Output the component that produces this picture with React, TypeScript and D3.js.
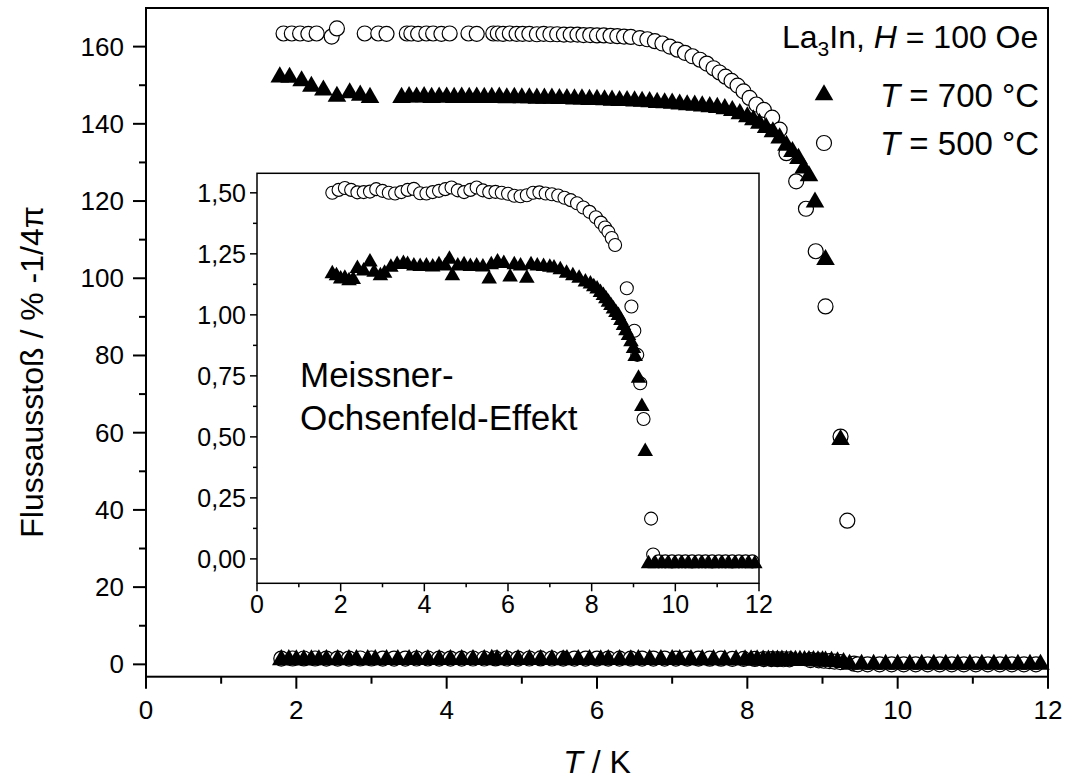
import React from 'react';
import * as d3 from 'd3';

// ---------- DATA ----------
// Main plot: zero-field-cooled shielding, sample annealed at 700 °C (triangles)
const zfc700: [number, number][] = [
  [1.78, 152.1], [1.91, 152.0], [2.07, 151.1], [2.20, 149.7], [2.36, 148.7], [2.54, 147.1],
  [2.71, 148.0], [2.85, 147.4], [2.98, 146.8],
  [3.40, 146.8], [3.50, 147.0], [3.60, 146.9], [3.70, 147.0], [3.80, 146.8], [3.90, 146.9],
  [4.00, 146.9], [4.10, 146.8], [4.20, 146.9], [4.30, 146.8], [4.40, 146.9], [4.50, 146.8],
  [4.60, 146.8], [4.70, 146.9], [4.80, 146.7], [4.90, 146.8], [5.00, 146.7], [5.10, 146.7],
  [5.20, 146.6], [5.30, 146.6], [5.40, 146.6], [5.50, 146.5], [5.60, 146.5], [5.70, 146.4],
  [5.80, 146.4], [5.90, 146.3], [6.00, 146.3], [6.10, 146.2], [6.20, 146.1], [6.30, 146.0],
  [6.40, 146.0], [6.50, 145.9], [6.60, 145.8], [6.70, 145.7], [6.80, 145.5], [6.90, 145.4],
  [7.00, 145.3], [7.10, 145.1], [7.20, 144.9], [7.30, 144.8], [7.40, 144.6], [7.50, 144.4],
  [7.60, 144.2], [7.70, 143.9], [7.80, 143.4], [7.90, 142.6], [8.00, 141.8], [8.08, 141.0],
  [8.16, 140.1], [8.25, 139.0], [8.34, 137.9], [8.43, 136.3], [8.52, 134.4], [8.60, 132.8],
  [8.68, 131.0], [8.75, 128.5], [8.82, 126.5], [8.90, 119.7], [9.04, 104.8], [9.24, 58.2],
];

// Main plot: zero-field-cooled shielding, sample annealed at 500 °C (circles)
const zfc500: [number, number][] = [
  [1.83, 163.4], [1.94, 163.4], [2.05, 163.4], [2.16, 163.3], [2.27, 163.4], [2.47, 162.6],
  [2.54, 164.7], [2.91, 163.4], [3.09, 163.4], [3.20, 163.3],
  [3.47, 163.4], [3.53, 163.4], [3.62, 163.3], [3.73, 163.4], [3.82, 163.4], [3.93, 163.3], [4.04, 163.4],
  [4.29, 163.4], [4.40, 163.3],
  [4.62, 163.4], [4.68, 163.4], [4.75, 163.3], [4.84, 163.4], [4.93, 163.3], [5.01, 163.3],
  [5.10, 163.3], [5.20, 163.2], [5.29, 163.3], [5.38, 163.2], [5.47, 163.2], [5.56, 163.1],
  [5.65, 163.1], [5.74, 163.1], [5.82, 163.0], [5.91, 163.0], [6.00, 162.9], [6.09, 162.9],
  [6.18, 162.8], [6.27, 162.7], [6.36, 162.6], [6.45, 162.5],
  [6.57, 162.2], [6.67, 161.9], [6.77, 161.4], [6.87, 160.8], [6.97, 160.0], [7.07, 159.2],
  [7.17, 158.4], [7.27, 157.5], [7.37, 156.6], [7.46, 155.6], [7.55, 154.4], [7.63, 153.3],
  [7.71, 152.2], [7.79, 151.1], [7.87, 149.9], [7.95, 148.4], [8.03, 146.7], [8.12, 145.0],
  [8.22, 143.6], [8.33, 141.6], [8.43, 138.5], [8.52, 132.4], [8.65, 125.1], [8.78, 118.0],
  [8.91, 107.0], [9.04, 92.7], [9.24, 59.0], [9.33, 37.2],
];

// Inset (and bottom band of main plot): field-cooled Meissner fraction, 700 °C (triangles)
const fc700: [number, number][] = [
  [1.80, 1.168], [1.90, 1.160], [2.00, 1.147], [2.10, 1.150], [2.20, 1.140], [2.30, 1.145],
  [2.40, 1.190], [2.55, 1.180], [2.70, 1.217], [2.80, 1.175], [2.95, 1.160], [3.05, 1.170],
  [3.20, 1.195], [3.35, 1.206], [3.50, 1.210], [3.60, 1.206], [3.75, 1.200], [3.90, 1.198],
  [4.05, 1.200], [4.20, 1.196], [4.35, 1.205], [4.50, 1.200], [4.60, 1.228], [4.67, 1.160],
  [4.80, 1.200], [4.95, 1.205], [5.10, 1.198], [5.25, 1.200], [5.40, 1.196], [5.55, 1.147],
  [5.60, 1.205], [5.75, 1.217], [5.90, 1.210], [6.05, 1.155], [6.15, 1.205], [6.30, 1.200],
  [6.45, 1.150], [6.55, 1.205], [6.70, 1.200], [6.85, 1.198], [7.00, 1.195], [7.10, 1.192],
  [7.25, 1.185], [7.40, 1.170], [7.55, 1.160], [7.70, 1.150], [7.85, 1.135], [7.97, 1.126],
  [8.05, 1.115], [8.13, 1.106], [8.21, 1.092], [8.28, 1.079], [8.34, 1.066], [8.40, 1.052],
  [8.46, 1.038], [8.52, 1.024], [8.58, 1.010], [8.64, 0.997], [8.70, 0.977], [8.76, 0.956],
  [8.82, 0.935], [8.88, 0.915], [8.94, 0.890], [9.00, 0.862], [9.04, 0.829], [9.12, 0.740],
  [9.20, 0.624], [9.28, 0.440],
  [9.36, -0.020], [9.52, -0.020], [9.68, -0.018], [9.84, -0.020], [10.00, -0.020], [10.16, -0.019],
  [10.32, -0.020], [10.48, -0.020], [10.64, -0.019], [10.80, -0.020], [10.96, -0.020], [11.12, -0.019],
  [11.28, -0.020], [11.44, -0.020], [11.60, -0.019], [11.76, -0.020], [11.90, -0.020],
];

// Inset (and bottom band of main plot): field-cooled Meissner fraction, 500 °C (circles)
const fc500: [number, number][] = [
  [1.80, 1.500], [1.95, 1.512], [2.10, 1.520], [2.25, 1.512], [2.40, 1.502], [2.55, 1.503],
  [2.70, 1.505], [2.85, 1.515], [3.00, 1.508], [3.15, 1.500], [3.30, 1.497], [3.45, 1.503],
  [3.60, 1.512], [3.75, 1.516], [3.90, 1.498], [4.05, 1.497], [4.20, 1.503], [4.35, 1.508],
  [4.50, 1.515], [4.65, 1.522], [4.80, 1.510], [4.95, 1.503], [5.10, 1.512], [5.25, 1.522],
  [5.40, 1.510], [5.55, 1.503], [5.70, 1.504], [5.85, 1.500], [6.00, 1.496], [6.15, 1.488],
  [6.30, 1.486], [6.45, 1.490], [6.60, 1.500], [6.75, 1.502], [6.90, 1.497], [7.05, 1.494],
  [7.20, 1.489], [7.35, 1.480], [7.50, 1.470], [7.65, 1.457], [7.80, 1.440], [7.95, 1.422],
  [8.10, 1.400], [8.22, 1.378], [8.32, 1.358], [8.40, 1.340], [8.48, 1.315], [8.56, 1.286],
  [8.84, 1.109], [8.95, 1.034], [9.02, 0.935], [9.09, 0.836], [9.16, 0.720], [9.24, 0.573],
  [9.42, 0.165], [9.47, 0.018],
  [9.60, -0.010], [9.76, -0.010], [9.92, -0.010], [10.08, -0.010], [10.24, -0.010], [10.40, -0.010],
  [10.56, -0.010], [10.72, -0.010], [10.88, -0.010], [11.04, -0.010], [11.20, -0.010], [11.36, -0.010],
  [11.52, -0.010], [11.68, -0.010], [11.84, -0.010],
];

const xMajor = [0, 2, 4, 6, 8, 10, 12];
const xMinor = [1, 3, 5, 7, 9, 11];
const yMainMajor = [0, 20, 40, 60, 80, 100, 120, 140, 160];
const yMainMinor = [10, 30, 50, 70, 90, 110, 130, 150];
const yInsetMajor = [0, 0.25, 0.5, 0.75, 1.0, 1.25, 1.5];
const yInsetMinor = [0.125, 0.375, 0.625, 0.875, 1.125, 1.375];

const legendTitle = { sample: 'La', sub: '3', rest: 'In, ', field: 'H', value: ' = 100 Oe' };
const legendRows = [' = 700 °C', ' = 500 °C'];
const insetLabel = ['Meissner-', 'Ochsenfeld-Effekt'];
const xTitle = ' / K';
const yTitle = 'Flussausstoß / % -1/4π';

const FONT = '"Liberation Sans", Arial, Helvetica, sans-serif';

const fmtComma = (v: number) => v.toFixed(2).replace('.', ',');

export default function App() {
  const W = 1065, H = 783;
  const xM = d3.scaleLinear().domain([0, 12]).range([146, 1048]);
  const yM = d3.scaleLinear().domain([-3.2, 170]).range([676.7, 8]);
  const xI = d3.scaleLinear().domain([0, 12]).range([257, 759]);
  const yI = d3.scaleLinear().domain([-0.1, 1.58]).range([583.3, 173.3]);

  const triMain = d3.symbol(d3.symbolTriangle, 150)() as string;
  const triInset = d3.symbol(d3.symbolTriangle, 105)() as string;

  const mx0 = xM.range()[0], mx1 = xM.range()[1];
  const my0 = yM.range()[0], my1 = yM.range()[1];
  const ix0 = xI.range()[0], ix1 = xI.range()[1];
  const iy0 = yI.range()[0], iy1 = yI.range()[1];

  return (
    <svg width={W} height={H} style={{ position: 'absolute', left: 0, top: 0, background: '#fff' }}
      fontFamily={FONT}>
      <rect x={0} y={0} width={W} height={H} fill="#fff" />

      {/* ---------- MAIN PLOT ---------- */}
      <g>
        {fc500.map((d, i) => (
          <circle key={'mb5' + i} cx={xM(d[0])} cy={yM(d[1])} r={7.5} fill="#fff" stroke="#000" strokeWidth={1.2} />
        ))}
        {fc700.map((d, i) => (
          <path key={'mb7' + i} d={triMain} transform={`translate(${xM(d[0])},${yM(d[1])})`} fill="#000" />
        ))}
      </g>
      <g>
        {zfc500.map((d, i) => (
          <circle key={'m5' + i} cx={xM(d[0])} cy={yM(d[1])} r={7.5} fill="#fff" stroke="#000" strokeWidth={1.2} />
        ))}
        {zfc700.map((d, i) => (
          <path key={'m7' + i} d={triMain} transform={`translate(${xM(d[0])},${yM(d[1])})`} fill="#000" />
        ))}
      </g>

      <rect x={mx0} y={my1} width={mx1 - mx0} height={my0 - my1} fill="none" stroke="#000" strokeWidth={2} />
      {xMajor.map((t) => (
        <g key={'mxt' + t}>
          <line x1={xM(t)} x2={xM(t)} y1={my0} y2={my0 + 12} stroke="#000" strokeWidth={2} />
          <text x={xM(t)} y={my0 + 42} fontSize={26} textAnchor="middle">{t}</text>
        </g>
      ))}
      {xMinor.map((t) => (
        <line key={'mxm' + t} x1={xM(t)} x2={xM(t)} y1={my0} y2={my0 + 7} stroke="#000" strokeWidth={2} />
      ))}
      {yMainMajor.map((t) => (
        <g key={'myt' + t}>
          <line x1={mx0} x2={mx0 - 13} y1={yM(t)} y2={yM(t)} stroke="#000" strokeWidth={2} />
          <text x={mx0 - 22} y={yM(t)} fontSize={26} textAnchor="end" dominantBaseline="central">{t}</text>
        </g>
      ))}
      {yMainMinor.map((t) => (
        <line key={'mym' + t} x1={mx0} x2={mx0 - 7} y1={yM(t)} y2={yM(t)} stroke="#000" strokeWidth={2} />
      ))}

      <text x={597} y={773} fontSize={32} textAnchor="middle">
        <tspan fontStyle="italic">T</tspan>{xTitle}
      </text>
      <text transform={`translate(43,372) rotate(-90)`} fontSize={32} textAnchor="middle">{yTitle}</text>

      {/* legend */}
      <text x={782} y={48} fontSize={32}>
        {legendTitle.sample}
        <tspan fontSize={21} dy={8}>{legendTitle.sub}</tspan>
        <tspan dy={-8}>{legendTitle.rest}</tspan>
        <tspan fontStyle="italic">{legendTitle.field}</tspan>
        {legendTitle.value}
      </text>
      <path d={triMain} transform="translate(824,95)" fill="#000" />
      <text x={880} y={107} fontSize={33}>
        <tspan fontStyle="italic">T</tspan>{legendRows[0]}
      </text>
      <circle cx={824} cy={143} r={7.5} fill="#fff" stroke="#000" strokeWidth={1.2} />
      <text x={880} y={155} fontSize={33}>
        <tspan fontStyle="italic">T</tspan>{legendRows[1]}
      </text>

      {/* ---------- INSET ---------- */}
      <rect x={ix0} y={iy1} width={ix1 - ix0} height={iy0 - iy1} fill="#fff" stroke="#000" strokeWidth={1.5} />
      {xMajor.map((t) => (
        <g key={'ixt' + t}>
          <line x1={xI(t)} x2={xI(t)} y1={iy0} y2={iy0 + 8} stroke="#000" strokeWidth={1.5} />
          <text x={xI(t)} y={iy0 + 30} fontSize={25} textAnchor="middle">{t}</text>
        </g>
      ))}
      {xMinor.map((t) => (
        <line key={'ixm' + t} x1={xI(t)} x2={xI(t)} y1={iy0} y2={iy0 + 4} stroke="#000" strokeWidth={1.5} />
      ))}
      {yInsetMajor.map((t) => (
        <g key={'iyt' + t}>
          <line x1={ix0} x2={ix0 - 7} y1={yI(t)} y2={yI(t)} stroke="#000" strokeWidth={1.5} />
          <text x={ix0 - 11} y={yI(t)} fontSize={25} textAnchor="end" dominantBaseline="central">{fmtComma(t)}</text>
        </g>
      ))}
      {yInsetMinor.map((t) => (
        <line key={'iym' + t} x1={ix0} x2={ix0 - 4} y1={yI(t)} y2={yI(t)} stroke="#000" strokeWidth={1.5} />
      ))}
      <g>
        {fc500.map((d, i) => (
          <circle key={'i5' + i} cx={xI(d[0])} cy={yI(d[1])} r={6.5} fill="#fff" stroke="#000" strokeWidth={1.1} />
        ))}
        {fc700.map((d, i) => (
          <path key={'i7' + i} d={triInset} transform={`translate(${xI(d[0])},${yI(d[1])})`} fill="#000" />
        ))}
      </g>
      <text x={300} y={387} fontSize={35}>{insetLabel[0]}</text>
      <text x={300} y={430} fontSize={35}>{insetLabel[1]}</text>
    </svg>
  );
}
